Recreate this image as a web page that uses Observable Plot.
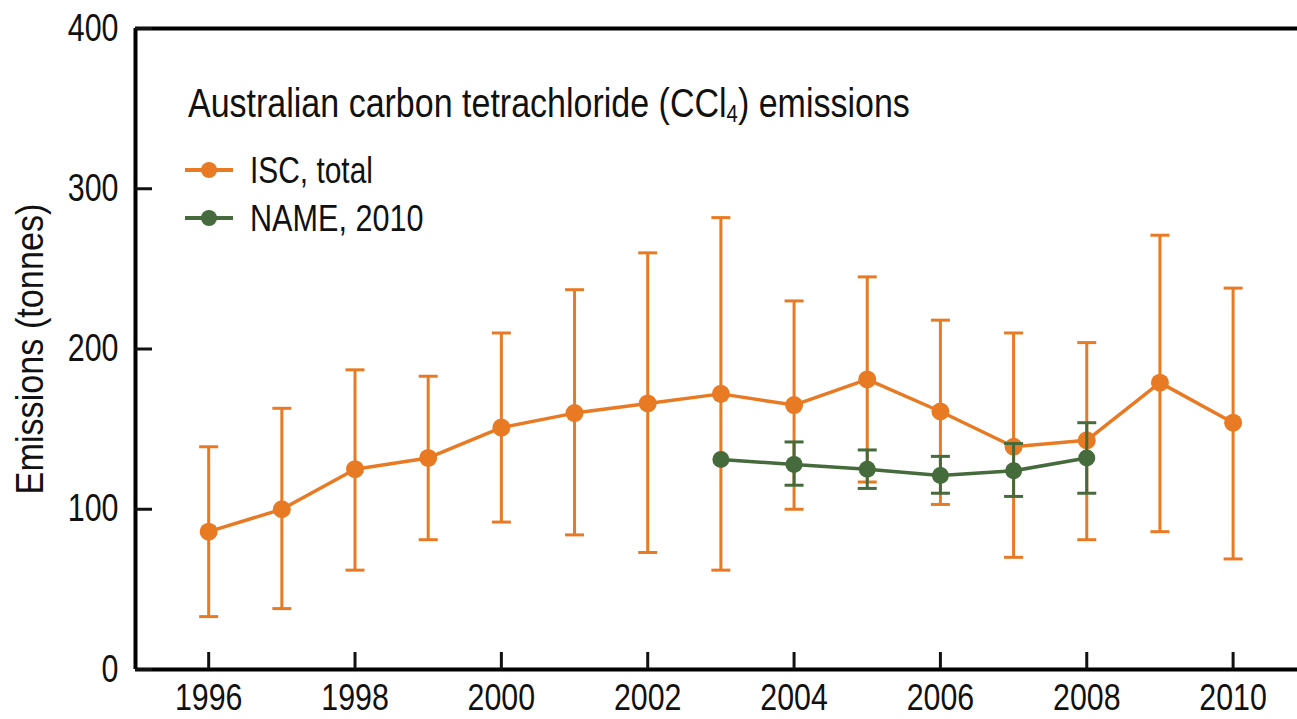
<!DOCTYPE html>
<html>
<head>
<meta charset="utf-8">
<script src="https://cdn.jsdelivr.net/npm/d3@7"></script>
<script src="https://cdn.jsdelivr.net/npm/@observablehq/plot@0.6"></script>
<style>
  html, body { margin: 0; padding: 0; background: #fff; }
  #wrap { position: relative; width: 1297px; height: 719px; overflow: hidden;
          font-family: "Liberation Sans", Arial, sans-serif; }
  #chart svg { display: block; }
  .lg { position: absolute; color: #111; white-space: nowrap; transform-origin: 0 0; line-height: 1; }
  .lg svg { vertical-align: middle; }
</style>
</head>
<body>
<div id="wrap">
  <div id="chart"></div>
  <div class="lg" id="title" style="left:188px; top:83px; font-size:40px; transform: scaleX(0.85);">Australian carbon tetrachloride (CCl<sub style="font-size:60%; vertical-align:-0.22em;">4</sub>) emissions</div>
  <div class="lg" id="leg1" style="left:250px; top:153px; font-size:36px; transform: scaleX(0.83);">ISC, total</div>
  <div class="lg" id="leg2" style="left:250px; top:201px; font-size:36px; transform: scaleX(0.85);">NAME, 2010</div>
  <svg id="sw" style="position:absolute; left:0; top:0;" width="300" height="260"></svg>
</div>
<script>
const years = [1996, 1997, 1998, 1999, 2000, 2001, 2002, 2003, 2004, 2005, 2006, 2007, 2008, 2009, 2010];
const iscValues = [86, 100, 125, 132, 151, 160, 166, 172, 165, 181, 161, 139, 143, 179, 154];
const iscHigh   = [139, 163, 187, 183, 210, 237, 260, 282, 230, 245, 218, 210, 204, 271, 238];
const iscLow    = [33, 38, 62, 81, 92, 84, 73, 62, 100, 117, 103, 70, 81, 86, 69];

const nameYears  = [2003, 2004, 2005, 2006, 2007, 2008];
const nameValues = [131, 128, 125, 121, 124, 132];
const nameHigh   = [null, 142, 137, 133, 141, 154];
const nameLow    = [null, 115, 113, 110, 108, 110];

const xTicks = [1996, 1998, 2000, 2002, 2004, 2006, 2008, 2010];
const yTicks = [0, 100, 200, 300, 400];
const xDomain = [1995, 2010.88];
const yDomain = [0, 400];

const ORANGE = "#E87A24";
const GREEN = "#456A3B";
const FONT = '"Liberation Sans", Arial, sans-serif';

const isc = years.map((y, i) => ({year: y, v: iscValues[i], hi: iscHigh[i], lo: iscLow[i]}));
const nm = nameYears.map((y, i) => ({year: y, v: nameValues[i], hi: nameHigh[i], lo: nameLow[i]}));
const nmErr = nm.filter(d => d.hi != null);

const capSymbol = {
  draw(context, size) {
    const h = Math.sqrt(size / Math.PI);
    context.moveTo(-h, 0);
    context.lineTo(h, 0);
  }
};

function series(data, errData, color, r) {
  return [
    Plot.ruleX(errData, {x: "year", y1: "lo", y2: "hi", stroke: color, strokeWidth: 3}),
    Plot.dot(errData, {x: "year", y: "hi", symbol: capSymbol, r: 9.5, stroke: color, strokeWidth: 3, fill: "none"}),
    Plot.dot(errData, {x: "year", y: "lo", symbol: capSymbol, r: 9.5, stroke: color, strokeWidth: 3, fill: "none"}),
    Plot.line(data, {x: "year", y: "v", stroke: color, strokeWidth: 3.5}),
    Plot.dot(data, {x: "year", y: "v", r, fill: color, stroke: "none"})
  ];
}

const chart = Plot.plot({
  width: 1297,
  height: 719,
  marginLeft: 135,
  marginRight: 0,
  marginTop: 28,
  marginBottom: 50,
  style: {fontFamily: FONT, fontSize: "38px", color: "#111", background: "#fff", overflow: "visible"},
  x: {domain: xDomain},
  y: {domain: yDomain},
  marks: [
    Plot.ruleY([yDomain[0], yDomain[1]], {stroke: "#000", strokeWidth: 4}),
    Plot.ruleX([xDomain[0]], {stroke: "#000", strokeWidth: 4}),
    Plot.axisY({ticks: yTicks, tickSize: -17, strokeWidth: 3, tickFormat: () => "", label: null}),
    Plot.axisY({ticks: yTicks, tickSize: 0, tickPadding: 17, tickFormat: d => String(d), fontSize: 38,
                label: "Emissions (tonnes)", labelAnchor: "center", labelArrow: "none", labelOffset: 119}),
    Plot.axisX({ticks: xTicks, tickSize: -17, strokeWidth: 3, tickFormat: () => "", label: null}),
    Plot.axisX({ticks: xTicks, tickSize: 0, tickPadding: 14, tickFormat: d => String(d), fontSize: 37, label: null}),
    ...series(isc, isc, ORANGE, 9),
    ...series(nm, nmErr, GREEN, 8.5)
  ]
});
document.getElementById("chart").appendChild(chart);

// condense text horizontally (reference uses a narrow face)
function condense(selector, k) {
  chart.querySelectorAll(selector).forEach(t => {
    if (!t.textContent) return;
    const len = t.getComputedTextLength();
    t.setAttribute("textLength", (len * k).toFixed(2));
    t.setAttribute("lengthAdjust", "spacingAndGlyphs");
  });
}
condense('g[aria-label="x-axis tick label"] text', 0.82);
condense('g[aria-label="y-axis tick label"] text', 0.8);
condense('g[aria-label="y-axis label"] text', 0.9);

// legend swatches
const sw = d3.select("#sw");
[[ORANGE, 170], [GREEN, 218]].forEach(([c, y]) => {
  sw.append("line").attr("x1", 185).attr("x2", 233).attr("y1", y).attr("y2", y)
    .attr("stroke", c).attr("stroke-width", 4);
  sw.append("circle").attr("cx", 209).attr("cy", y).attr("r", 8).attr("fill", c);
});
</script>
</body>
</html>
